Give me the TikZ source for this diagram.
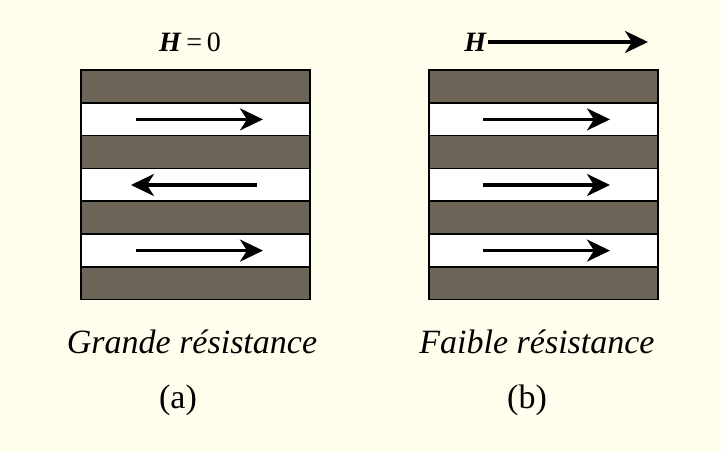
\documentclass[tikz,border=0pt]{standalone}
\usepackage{fontspec}
\setmainfont{Liberation Serif}
\usetikzlibrary{arrows.meta}
\definecolor{paper}{HTML}{FFFDEB}
\definecolor{layer}{HTML}{6E6559}
\tikzset{
  darklayer/.style={fill=layer,draw=black,line width=1.6pt},
  lightlayer/.style={fill=white,draw=black,line width=1.6pt},
  spin/.style={line width=3.4pt,-{Stealth[length=23pt,width=22pt,inset=7pt]}},
  caption/.style={font=\fontsize{34}{34}\selectfont\itshape},
  tag/.style={font=\fontsize{34}{34}\selectfont},
  fieldlabel/.style={font=\fontsize{28}{28}\selectfont},
}
\begin{document}
\begin{tikzpicture}[x=1pt,y=-1pt]
  % page
  \fill[paper] (0,0) rectangle (721,452);
  \useasboundingbox (0,0) rectangle (721,452);

  % multilayer stacks: seven layers each
  \foreach \x in {81,429}{
    \foreach \i in {0,...,6}{
      \pgfmathsetmacro{\ya}{70+\i*32.8}
      \pgfmathsetmacro{\yb}{70+(\i+1)*32.8}
      \ifodd\i
        \draw[lightlayer] (\x,\ya) rectangle (\x+229,\yb);
      \else
        \draw[darklayer] (\x,\ya) rectangle (\x+229,\yb);
      \fi
    }
  }

  % magnetisation of the ferromagnetic layers, zero field
  \coordinate (a1s) at (136,119.4); \coordinate (a1e) at (263,119.4);
  \coordinate (a2s) at (257,185.0); \coordinate (a2e) at (131,185.0);
  \coordinate (a3s) at (136,250.6); \coordinate (a3e) at (263,250.6);
  \draw[spin] (a1s) -- (a1e);
  \draw[spin] (a2s) -- (a2e);
  \draw[spin] (a3s) -- (a3e);

  % magnetisation under an applied field
  \coordinate (b1s) at (483,119.4); \coordinate (b1e) at (610,119.4);
  \coordinate (b2s) at (483,185.0); \coordinate (b2e) at (610,185.0);
  \coordinate (b3s) at (483,250.6); \coordinate (b3e) at (610,250.6);
  \draw[spin] (b1s) -- (b1e);
  \draw[spin] (b2s) -- (b2e);
  \draw[spin] (b3s) -- (b3e);

  % field labels
  \node[fieldlabel] (h0) at (190,42) {\textbf{\textit{H}}\,=\,0};
  \node[fieldlabel, anchor=east, inner sep=1pt] (h1) at (488,42) {\textbf{\textit{H}}};
  \coordinate (hend) at (648,42);
  \draw[spin] (h1.east) -- (hend);

  % captions
  \node[caption] (ca) at (192,342) {Grande résistance};
  \node[caption] (cb) at (537,342) {Faible résistance};
  \node[tag] (ta) at (178,400) {(a)};
  \node[tag] (tb) at (527,400) {(b)};
\end{tikzpicture}
\end{document}
